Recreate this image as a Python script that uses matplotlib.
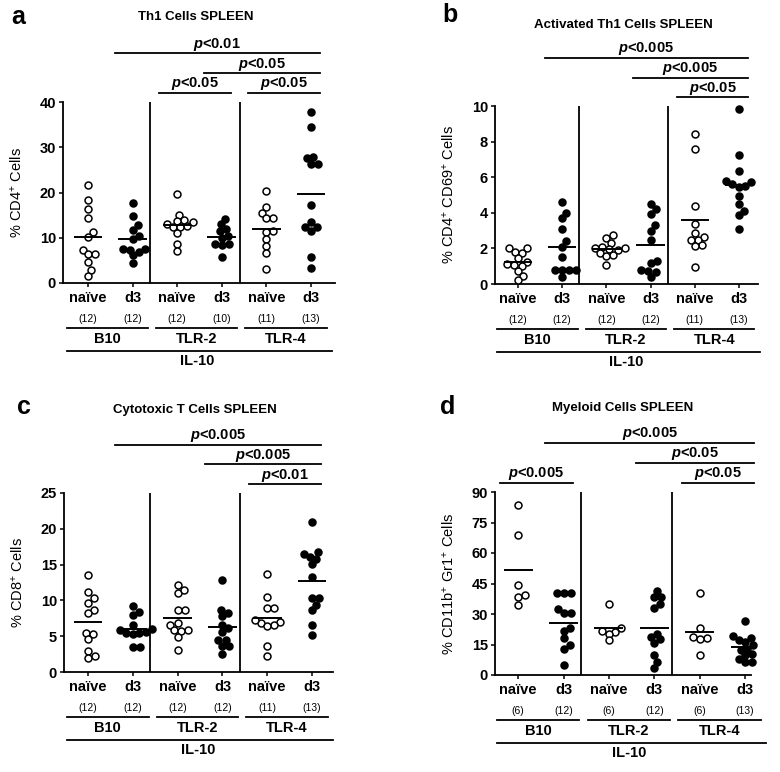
import numpy as np
import matplotlib
matplotlib.use("Agg")
import matplotlib.pyplot as plt
import matplotlib.transforms as mtransforms

plt.rcParams.update({
    "font.family": ["Liberation Sans", "DejaVu Sans"],
    "mathtext.fontset": "custom",
    "mathtext.rm": "Liberation Sans",
    "mathtext.it": "Liberation Sans:italic:bold",
    "mathtext.bf": "Liberation Sans:bold",
})

# ---- data ----
conditions = ["naïve", "d3"]
strains = ["B10", "TLR-2", "TLR-4"]
background = "IL-10"

# order: B10 naive, B10 d3, TLR-2 naive, TLR-2 d3, TLR-4 naive, TLR-4 d3
th1 = [
    [21.75, 18.3, 16.4, 14.45, 11.2, 10.2, 7.4, 6.3, 6.4, 4.7, 2.8, 1.5],
    [17.6, 14.8, 12.8, 11.8, 10.3, 9.8, 7.6, 7.5, 7.4, 6.8, 6.1, 4.4],
    [19.7, 15.1, 14.0, 13.7, 13.4, 13.0, 12.6, 12.4, 12.3, 11.0, 8.7, 7.1],
    [14.2, 13.0, 12.0, 11.4, 10.4, 10.0, 8.7, 8.6, 8.5, 5.8],
    [20.4, 16.8, 15.5, 14.3, 14.3, 11.5, 11.2, 9.7, 8.2, 6.7, 3.0],
    [37.8, 34.5, 27.6, 27.9, 26.4, 26.4, 17.2, 13.5, 12.4, 12.3, 11.5, 5.7, 3.3],
]
th1_activated = [
    [2.0, 2.0, 1.8, 1.75, 1.45, 1.25, 1.1, 1.05, 1.0, 0.72, 0.47, 0.22],
    [4.6, 4.0, 3.7, 3.1, 2.4, 2.1, 1.5, 0.8, 0.8, 0.8, 0.8, 0.4],
    [2.75, 2.6, 2.3, 2.1, 2.05, 2.0, 1.95, 1.9, 1.75, 1.65, 1.6, 1.05],
    [4.5, 4.2, 3.95, 3.3, 3.0, 2.5, 1.3, 1.2, 0.8, 0.75, 0.65, 0.4],
    [8.4, 7.6, 4.4, 3.35, 2.85, 2.65, 2.5, 2.45, 2.2, 2.15, 0.95],
    [9.85, 7.23, 6.34, 5.78, 5.74, 5.59, 5.53, 5.44, 4.92, 4.49, 4.11, 3.88, 3.07],
]
cytotoxic = [
    [13.6, 11.2, 10.3, 9.7, 8.6, 8.2, 5.5, 5.3, 4.6, 3.0, 2.3, 2.0],
    [9.2, 8.4, 7.9, 6.5, 6.0, 5.8, 5.6, 5.5, 5.5, 5.3, 3.5, 3.5],
    [12.1, 11.1, 11.5, 8.7, 8.6, 6.9, 6.5, 5.9, 5.8, 5.7, 4.9, 3.1],
    [12.8, 8.7, 8.3, 7.8, 6.6, 6.2, 5.6, 4.5, 4.4, 3.7, 3.7, 2.5],
    [13.7, 10.5, 9.0, 9.0, 7.0, 6.8, 6.6, 7.2, 6.4, 3.7, 2.3],
    [20.9, 16.7, 16.5, 16.1, 15.8, 15.1, 13.3, 10.3, 10.3, 9.3, 8.6, 6.5, 5.1],
]
myeloid = [
    [83.5, 68.7, 44.3, 39.4, 38.5, 34.4],
    [40.2, 40.2, 40.2, 32.3, 30.3, 30.3, 23.2, 21.7, 18.0, 14.7, 13.0, 4.8],
    [34.9, 23.2, 21.7, 21.3, 20.4, 17.1],
    [41.4, 38.5, 38.5, 34.8, 33.1, 20.4, 18.8, 17.5, 15.8, 9.7, 6.4, 3.5],
    [40.2, 23.2, 18.8, 18.0, 17.5, 10.0],
    [26.5, 19.1, 18.0, 17.1, 16.3, 14.7, 13.0, 12.2, 10.5, 9.7, 8.1, 6.4, 6.4],
]

# comparisons: (group i, group j, label, stacking level)
cmp_th1 = [(2, 3, "p<0.05", 0), (4, 5, "p<0.05", 0), (3, 5, "p<0.05", 1), (1, 5, "p<0.01", 2)]
cmp_act = [(4, 5, "p<0.05", 0), (3, 5, "p<0.005", 1), (1, 5, "p<0.005", 2)]
cmp_cyt = [(4, 5, "p<0.01", 0), (3, 5, "p<0.005", 1), (1, 5, "p<0.005", 2)]
cmp_mye = [(0, 1, "p<0.005", 0), (4, 5, "p<0.05", 0), (3, 5, "p<0.05", 1), (1, 5, "p<0.005", 2)]

W, H = 780, 772
fig = plt.figure(figsize=(W / 100, H / 100), dpi=100)

panels = [
    dict(letter="a", title="Th1 Cells SPLEEN", ylabel="% CD4$^{+}$ Cells",
         values=th1, yticks=np.arange(0, 41, 10), comps=cmp_th1,
         box=(63, 102, 335, 283), xlim=(-0.56, 5.54),
         letter_xy=(18, 17), title_xy=(196, 17)),
    dict(letter="b", title="Activated Th1 Cells SPLEEN", ylabel="% CD4$^{+}$ CD69$^{+}$ Cells",
         values=th1_activated, yticks=np.arange(0, 11, 2), comps=cmp_act,
         box=(495, 106, 758, 284), xlim=(-0.52, 5.43),
         letter_xy=(450, 15), title_xy=(623, 25)),
    dict(letter="c", title="Cytotoxic T Cells SPLEEN", ylabel="% CD8$^{+}$ Cells",
         values=cytotoxic, yticks=np.arange(0, 26, 5), comps=cmp_cyt,
         box=(64, 493, 333, 672), xlim=(-0.54, 5.47),
         letter_xy=(24, 407), title_xy=(195, 410)),
    dict(letter="d", title="Myeloid Cells SPLEEN", ylabel="% CD11b$^{+}$ Gr1$^{+}$ Cells",
         values=myeloid, yticks=np.arange(0, 91, 15), comps=cmp_mye,
         box=(495, 492, 751, 675), xlim=(-0.51, 5.13),
         letter_xy=(448, 407), title_xy=(623, 408)),
]

LW = 1.3
DIAM = 6.6  # marker spacing in pixels (GraphPad lets dots touch a little)


def swarm_x(ax, x0, vals):
    # simple beeswarm: push points sideways until they stop overlapping
    pts = ax.transData.transform(np.column_stack([np.full(len(vals), x0), vals]))
    ys = pts[:, 1]
    offs = np.zeros(len(vals))
    placed = []
    cands = [0.0]
    for k in range(1, 60):
        cands += [k * 0.5, -k * 0.5]
    for idx in np.argsort(ys):
        y = ys[idx]
        for c in cands:
            if all((c - px) ** 2 + (y - py) ** 2 >= DIAM ** 2 for px, py in placed):
                break
        placed.append((c, y))
        offs[idx] = c
    out = ax.transData.inverted().transform(np.column_stack([pts[:, 0] + offs, ys]))
    return out[:, 0]


def below(ax, px):
    base = mtransforms.blended_transform_factory(ax.transData, ax.transAxes)
    return base + mtransforms.ScaledTranslation(0, -px / 100, fig.dpi_scale_trans)


for p in panels:
    l, t, r, b = p["box"]
    ax = fig.add_axes([l / W, 1 - b / H, (r - l) / W, (b - t) / H])
    ax.set_xlim(*p["xlim"])
    ax.set_ylim(p["yticks"][0], p["yticks"][-1])

    for s in ["top", "right"]:
        ax.spines[s].set_visible(False)
    for s in ["left", "bottom"]:
        ax.spines[s].set_linewidth(LW)
    ax.tick_params(width=1.1, length=3, pad=2)
    ax.set_yticks(p["yticks"])
    ax.set_yticklabels([str(v) for v in p["yticks"]], fontsize=10.5, fontweight="bold")
    ax.set_xticks(range(6))
    ax.set_xticklabels(conditions * 3, fontsize=10.5, fontweight="bold")
    ax.tick_params(axis="x", pad=3)
    ax.set_ylabel(p["ylabel"], fontsize=10.5)
    ax.yaxis.set_label_coords(-38 / (r - l), 0.5)

    for sx in (1.38, 3.4):
        ax.axvline(sx, color="black", lw=LW)

    for i, vals in enumerate(p["values"]):
        vals = np.asarray(vals)
        xs = swarm_x(ax, i, vals)
        face = "white" if i % 2 == 0 else "black"
        ax.scatter(xs, vals, s=25, facecolor=face, edgecolor="black",
                   linewidth=1.1, zorder=3, clip_on=False)
        ax.hlines(vals.mean(), i - 0.32, i + 0.32, color="black", lw=1.4, zorder=4)
        ax.text(i, 0, f"({len(vals)})", transform=below(ax, 36),
                ha="center", va="center", fontsize=7.5)

    # strain groups and background bar
    for g, name in enumerate(strains):
        x0, x1 = 2 * g - 0.47, 2 * g + 1.35
        ax.plot([x0, x1], [0, 0], color="black", lw=LW, transform=below(ax, 45), clip_on=False)
        ax.text((x0 + x1) / 2, 0, name, transform=below(ax, 56), ha="center", va="center",
                fontsize=10.5, fontweight="bold")
    ax.plot([-0.47, 5.47], [0, 0], color="black", lw=LW, transform=below(ax, 68), clip_on=False)
    ax.text(2.45, 0, background, transform=below(ax, 78), ha="center", va="center",
            fontsize=10.5, fontweight="bold")

    # significance bars
    trans = mtransforms.blended_transform_factory(ax.transData, ax.transAxes)
    levels = [1.05, 1.16, 1.27]
    for i, j, lab, lev in p["comps"]:
        x0, x1 = i - 0.4, j + 0.2
        y = levels[lev]
        ax.plot([x0, x1], [y, y], color="black", lw=LW, transform=trans, clip_on=False)
        ax.annotate("$p$" + lab[1:], xy=((x0 + x1) / 2, y), xycoords=trans,
                    xytext=(0, 9), textcoords="offset pixels", ha="center", va="center",
                    fontsize=10.5, fontweight="bold")

    lx, ly = p["letter_xy"]
    fig.text(lx / W, 1 - ly / H, p["letter"], fontsize=18, fontweight="bold",
             ha="center", va="center")
    tx, ty = p["title_xy"]
    fig.text(tx / W, 1 - ty / H, p["title"], fontsize=9.5, fontweight="bold",
             ha="center", va="center")

fig.savefig("out.png", dpi=100)
